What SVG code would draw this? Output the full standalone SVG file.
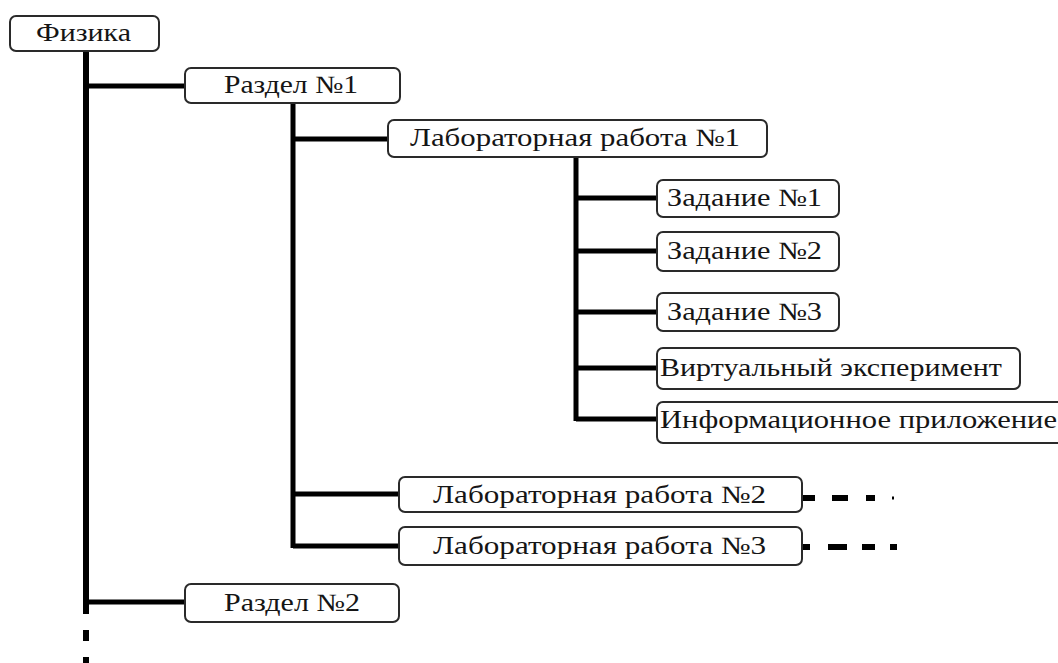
<svg xmlns="http://www.w3.org/2000/svg" width="1058" height="663" viewBox="0 0 1058 663">
<style>
.box{fill:#fff;stroke:#2a2a2a;stroke-width:2}
text{font-family:'Liberation Serif',serif;font-size:25px;fill:#151515}
.c{stroke:#000;stroke-width:5;fill:none}
.d{stroke:#000;stroke-width:6;fill:none}
</style>
<rect width="1058" height="663" fill="#fff"/>
<g id="connectors">
<line class="c" x1="86" y1="51" x2="86" y2="614" style="stroke-width:6"/>
<line class="d" x1="86" y1="630" x2="86" y2="641"/>
<line class="d" x1="86" y1="657" x2="86" y2="663"/>
<line class="c" x1="86" y1="86" x2="185" y2="86"/>
<line class="c" x1="86" y1="602" x2="185" y2="602"/>
<line class="c" x1="293" y1="103" x2="293" y2="548"/>
<line class="c" x1="293" y1="139" x2="388" y2="139"/>
<line class="c" x1="293" y1="494" x2="399" y2="494"/>
<line class="c" x1="293" y1="546" x2="399" y2="546"/>
<line class="c" x1="576" y1="158" x2="576" y2="421"/>
<line class="c" x1="576" y1="198" x2="657" y2="198"/>
<line class="c" x1="576" y1="251" x2="657" y2="251"/>
<line class="c" x1="576" y1="312" x2="657" y2="312"/>
<line class="c" x1="576" y1="368" x2="657" y2="368"/>
<line class="c" x1="576" y1="419" x2="657" y2="419"/>
<line class="d" x1="803" y1="498" x2="815" y2="498"/>
<line class="d" x1="832" y1="498" x2="848" y2="498"/>
<line class="d" x1="866" y1="498" x2="875" y2="498"/>
<line class="d" x1="892" y1="498" x2="894" y2="498" style="stroke-width:3"/>
<line class="d" x1="803" y1="547" x2="810" y2="547"/>
<line class="d" x1="828" y1="547" x2="847" y2="547"/>
<line class="d" x1="862" y1="547" x2="875" y2="547"/>
<line class="d" x1="890" y1="547" x2="897" y2="547"/>
</g>
<g id="fizika"><rect class="box" x="10" y="16" width="149" height="35" rx="6"/><text x="36" y="41" textLength="95" lengthAdjust="spacingAndGlyphs">Физика</text></g>
<g id="razdel1"><rect class="box" x="185" y="68" width="215" height="35" rx="6"/><text x="224" y="93" textLength="134" lengthAdjust="spacingAndGlyphs">Раздел №1</text></g>
<g id="lab1"><rect class="box" x="388" y="120" width="379" height="37" rx="6"/><text x="410" y="146" textLength="330" lengthAdjust="spacingAndGlyphs">Лабораторная работа №1</text></g>
<g id="zad1"><rect class="box" x="657" y="180" width="182" height="37" rx="6"/><text x="667" y="206" textLength="155" lengthAdjust="spacingAndGlyphs">Задание №1</text></g>
<g id="zad2"><rect class="box" x="657" y="232" width="182" height="39" rx="6"/><text x="667" y="259" textLength="155" lengthAdjust="spacingAndGlyphs">Задание №2</text></g>
<g id="zad3"><rect class="box" x="657" y="293" width="182" height="38" rx="6"/><text x="667" y="320" textLength="155" lengthAdjust="spacingAndGlyphs">Задание №3</text></g>
<g id="virt"><rect class="box" x="657" y="348" width="363" height="41" rx="6"/><text x="660" y="376" textLength="342" lengthAdjust="spacingAndGlyphs">Виртуальный эксперимент</text></g>
<g id="info"><rect class="box" x="657" y="402" width="420" height="41" rx="6"/><text x="660" y="428" textLength="397" lengthAdjust="spacingAndGlyphs">Информационное приложение</text></g>
<g id="lab2"><rect class="box" x="399" y="477" width="403" height="35" rx="6"/><text x="433" y="503" textLength="333" lengthAdjust="spacingAndGlyphs">Лабораторная работа №2</text></g>
<g id="lab3"><rect class="box" x="399" y="527" width="403" height="38" rx="6"/><text x="433" y="554" textLength="333" lengthAdjust="spacingAndGlyphs">Лабораторная работа №3</text></g>
<g id="razdel2"><rect class="box" x="185" y="584" width="214" height="38" rx="6"/><text x="224" y="611" textLength="136" lengthAdjust="spacingAndGlyphs">Раздел №2</text></g>
</svg>
